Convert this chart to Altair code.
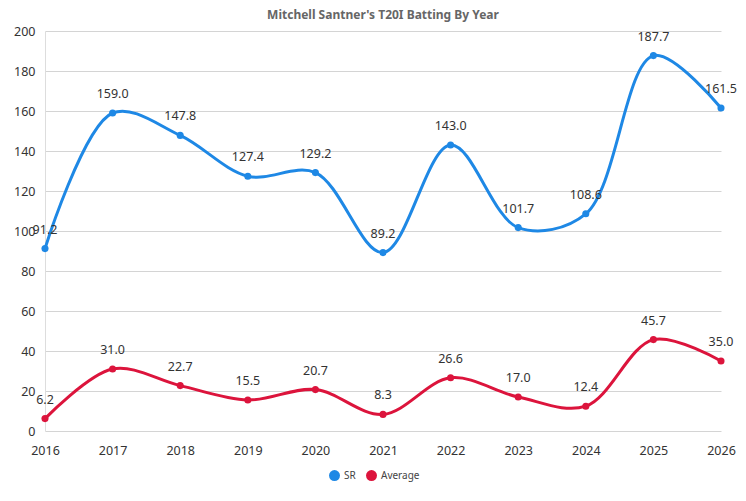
import altair as alt
import pandas as pd

years = [2016, 2017, 2018, 2019, 2020, 2021, 2022, 2023, 2024, 2025, 2026]
sr = [91.2, 159.0, 147.8, 127.4, 129.2, 89.2, 143.0, 101.7, 108.6, 187.7, 161.5]
avg = [6.2, 31.0, 22.7, 15.5, 20.7, 8.3, 26.6, 17.0, 12.4, 45.7, 35.0]
series = ["SR", "Average"]
colors = ["#1E88E5", "#DC143C"]

rows = []
for y, v in zip(years, sr):
    rows.append({"year": y, "value": v, "series": "SR", "label": f"{v:.1f}"})
for y, v in zip(years, avg):
    rows.append({"year": y, "value": v, "series": "Average", "label": f"{v:.1f}"})
df = pd.DataFrame(rows)

FONT = "Noto Sans"

x = alt.X("year:Q", scale=alt.Scale(domain=[2016, 2026], nice=False),
          axis=alt.Axis(title=None, format="d", values=years, grid=False, ticks=False,
                        domain=False, labelFlush=False, labelPadding=13, labelFontSize=12.5,
                        labelColor="#333", labelFont=FONT))
y = alt.Y("value:Q", scale=alt.Scale(domain=[0, 200], nice=False),
          axis=alt.Axis(title=None, values=list(range(0, 201, 20)), ticks=False,
                        domain=True, domainColor="#ddd", gridColor="#d4d4d4",
                        labelPadding=10, labelFontSize=12.5, labelColor="#333", labelFont=FONT))
color = alt.Color("series:N", scale=alt.Scale(domain=series, range=colors),
                  legend=alt.Legend(title=None, orient="none", direction="horizontal",
                                    legendX=284, legendY=439, symbolType="circle",
                                    symbolSize=120, symbolStrokeWidth=0, symbolOpacity=1,
                                    labelFontSize=10, labelColor="#444", labelFont=FONT,
                                    columnPadding=10))

base = alt.Chart(df)
lines = base.mark_line(interpolate="catmull-rom", strokeWidth=3).encode(
    x=x, y=y, color=color, detail="series:N")
points = base.mark_point(filled=True, size=50, opacity=1).encode(
    x=x, y=y, color=alt.Color("series:N", scale=alt.Scale(domain=series, range=colors), legend=None))
texts = base.mark_text(dy=-19, fontSize=12.5, color="#333", font=FONT).encode(
    x=x, y=y, text="label:N")

chart = alt.layer(lines, points, texts).properties(
    width=676, height=400,
    title=alt.TitleParams("Mitchell Santner's T20I Batting By Year", fontSize=12,
                          fontWeight="bold", color="#666", font=FONT, anchor="middle", offset=3),
    autosize=alt.AutoSizeParams(type="none"),
    padding={"left": 37, "top": 23, "right": 17, "bottom": 62},
).configure_view(stroke=None)

chart.save("out.html", embed_options={"renderer": "svg", "actions": False})
